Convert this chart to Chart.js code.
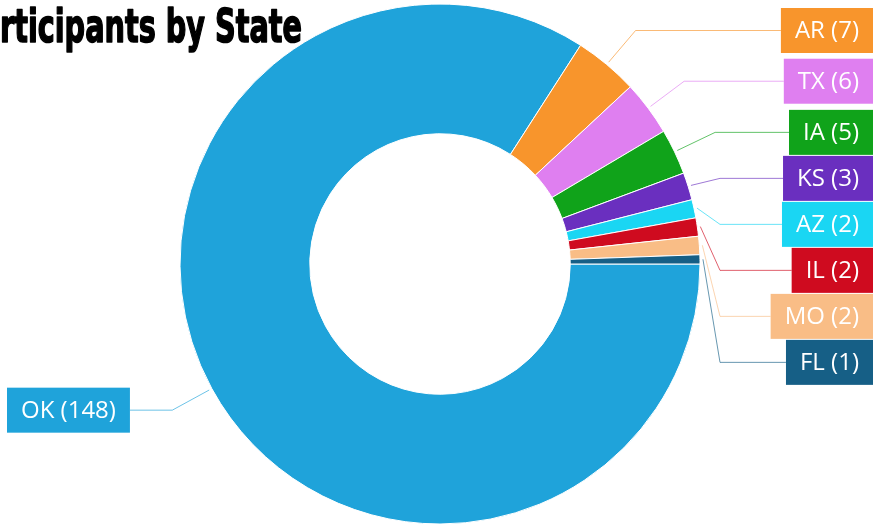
<!DOCTYPE html>
<html>
<head>
<meta charset="utf-8">
<script src="https://cdn.jsdelivr.net/npm/chart.js@4.4.1/dist/chart.umd.min.js"></script>
<style>
  body { margin: 0; background: #fff; }
  canvas { display: block; }
</style>
</head>
<body>
<canvas id="stateChart" width="875" height="525"></canvas>
<script>
const chartTitle = 'Participants by State';
const states = ['OK', 'AR', 'TX', 'IA', 'KS', 'AZ', 'IL', 'MO', 'FL'];
const participants = [148, 7, 6, 5, 3, 2, 2, 2, 1];
const stateColors = ['#1fa3da', '#f8952c', '#df7ff0', '#10a31a', '#6a2fbf', '#1ad6f3', '#cf0b1f', '#f9bd86', '#165f86'];

// draws the cut-off heading in a squeezed heavy face
const titlePlugin = {
  id: 'bigTitle',
  afterDraw(chart) {
    const ctx = chart.ctx;
    ctx.save();
    ctx.font = 'bold 47px "Liberation Sans Narrow", "DejaVu Sans Condensed", sans-serif';
    const visible = ctx.measureText(chartTitle.slice(2)).width;
    const sx = 302 / visible;
    ctx.translate(302, 42);
    ctx.scale(sx, 1);
    ctx.textAlign = 'right';
    ctx.textBaseline = 'alphabetic';
    ctx.fillStyle = '#000';
    ctx.strokeStyle = '#000';
    ctx.lineWidth = 1.6;
    ctx.lineJoin = 'round';
    ctx.fillText(chartTitle, 0, 0);
    ctx.strokeText(chartTitle, 0, 0);
    ctx.restore();
  }
};

// leader lines + coloured label boxes
const calloutPlugin = {
  id: 'callouts',
  afterDatasetsDraw(chart) {
    const ctx = chart.ctx;
    const arcs = chart.getDatasetMeta(0).data;
    const right = [], left = [];
    arcs.forEach((arc, i) => {
      const mid = (arc.startAngle + arc.endAngle) / 2;
      const c = Math.cos(mid), s = Math.sin(mid);
      const item = {
        i: i,
        cx: arc.x,
        sx: arc.x + (arc.outerRadius + 3) * c,
        sy: arc.y + (arc.outerRadius + 3) * s,
        ex: arc.x + (arc.outerRadius + 45) * c,
        ey: arc.y + (arc.outerRadius + 45) * s
      };
      (c >= 0 ? right : left).push(item);
    });

    const boxH = 45, gap = 46, pad = 14;
    ctx.save();
    ctx.font = '24px "Open Sans", sans-serif';
    ctx.textBaseline = 'middle';

    function drawSide(items, isRight) {
      items.sort((a, b) => a.ey - b.ey);
      let prev = -Infinity;
      items.forEach(it => {
        it.ey = Math.max(it.ey, prev + gap, boxH / 2 + 8);
        prev = it.ey;
      });
      items.forEach(it => {
        const text = states[it.i] + ' (' + participants[it.i] + ')';
        const w = ctx.measureText(text).width + pad * 2;
        const bx = isRight ? 873 - w : 7;
        const elbowX = isRight ? Math.min(it.ex, it.cx + 280) : Math.max(it.ex, it.cx - 280);
        const lineEnd = isRight ? bx : bx + w;

        ctx.globalAlpha = 0.65;
        ctx.strokeStyle = stateColors[it.i];
        ctx.lineWidth = 1;
        ctx.beginPath();
        ctx.moveTo(it.sx, it.sy);
        ctx.lineTo(elbowX, it.ey);
        ctx.lineTo(lineEnd, it.ey);
        ctx.stroke();
        ctx.globalAlpha = 1;

        ctx.fillStyle = stateColors[it.i];
        ctx.fillRect(bx, it.ey - boxH / 2, w, boxH);
        ctx.fillStyle = '#fff';
        ctx.textAlign = 'center';
        ctx.fillText(text, bx + w / 2, it.ey + 1);
      });
    }

    drawSide(right, true);
    drawSide(left, false);
    ctx.restore();
  }
};

const ctx = document.getElementById('stateChart').getContext('2d');
const chart = new Chart(ctx, {
  type: 'doughnut',
  data: {
    labels: states,
    datasets: [{
      data: participants,
      backgroundColor: stateColors,
      borderColor: '#ffffff',
      borderWidth: 1,
      hoverOffset: 0
    }]
  },
  options: {
    responsive: false,
    animation: false,
    rotation: 90,
    radius: 260,
    cutout: 130,
    layout: {
      padding: { left: 180, right: 175, top: 4, bottom: 1 }
    },
    plugins: {
      legend: { display: false },
      title: { display: false },
      tooltip: { enabled: false }
    }
  },
  plugins: [calloutPlugin, titlePlugin]
});
</script>
</body>
</html>
